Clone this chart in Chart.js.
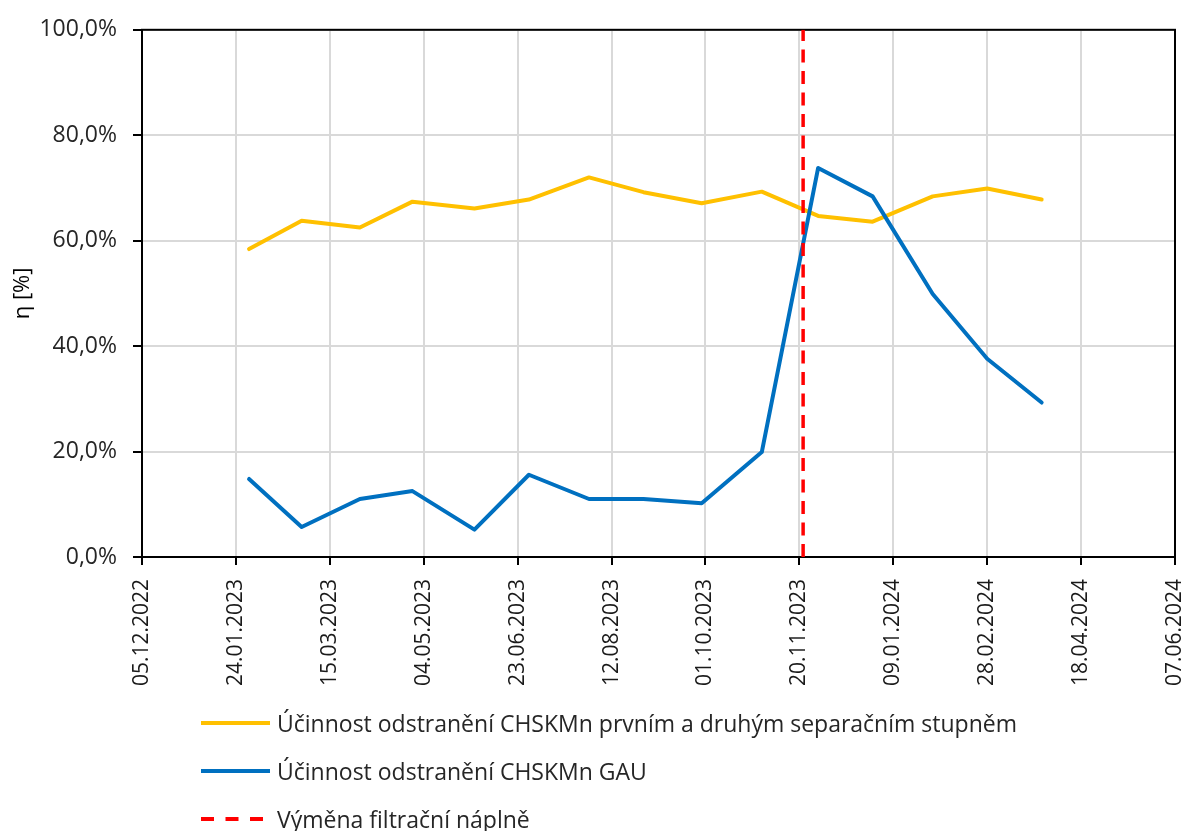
<!DOCTYPE html>
<html><head><meta charset="utf-8">
<script src="https://cdn.jsdelivr.net/npm/chart.js@4.4.0/dist/chart.umd.min.js"></script>
<style>
html,body{margin:0;padding:0;background:#fff;}
#wrap{position:relative;width:1188px;height:831px;}
#legend{position:absolute;left:201px;top:699px;font-family:"Open Sans";font-size:23px;color:#262626;}
.row{display:flex;align-items:center;height:48px;white-space:nowrap;}
.row svg{margin-right:7px;flex:none;}
</style></head><body>
<div id="wrap"><canvas id="c" width="1188" height="831"></canvas><div id="legend"></div></div>
<script>
const sampleDates = ["2023-01-31","2023-02-28","2023-03-31","2023-04-28","2023-05-31","2023-06-29","2023-07-31","2023-08-29","2023-09-29","2023-10-31","2023-11-30","2023-12-29","2024-01-30","2024-02-28","2024-03-28"];
const efficiencyStages = [58.4,63.8,62.5,67.4,66.1,67.8,72.0,69.2,67.1,69.3,64.7,63.6,68.4,69.9,67.8];
const efficiencyGAU = [14.8,5.7,11.0,12.5,5.2,15.6,11.0,11.0,10.2,19.9,73.8,68.4,49.9,37.6,29.3];
const filterChangeDate = "2023-11-22";
const filterChangeRange = [0, 100];
const axisStartDate = "2022-12-05";
const axisEndDate = "2024-06-07";
const xTickStepDays = 50;
const yTickStep = 20;
const seriesLabels = ["Účinnost odstranění CHSKMn prvním a druhým separačním stupněm","Účinnost odstranění CHSKMn GAU","Výměna filtrační náplně"];
const yAxisTitle = "η [%]";

function dayOf(s){const p=s.split('-').map(Number);return Date.UTC(p[0],p[1]-1,p[2])/86400000;}
const d0 = dayOf(axisStartDate);
const toX = s => dayOf(s) - d0;
function fmtDate(v){const d=new Date((d0+v)*86400000);const dd=String(d.getUTCDate()).padStart(2,'0');const mm=String(d.getUTCMonth()+1).padStart(2,'0');return dd+'.'+mm+'.'+d.getUTCFullYear();}

const frame = {id:'frame',beforeDatasetsDraw(chart){const a=chart.chartArea,ctx=chart.ctx;ctx.save();ctx.strokeStyle='#000';ctx.lineWidth=2;ctx.strokeRect(a.left,a.top,a.right-a.left,a.bottom-a.top);ctx.restore();}};

const datasets = [
 {label:seriesLabels[2],data:filterChangeRange.map(y=>({x:toX(filterChangeDate),y})),borderColor:'#FF0000',borderWidth:3.5,borderDash:[13,8.5],pointRadius:0,order:0},
 {label:seriesLabels[1],data:sampleDates.map((s,i)=>({x:toX(s),y:efficiencyGAU[i]})),borderColor:'#0070C0',borderWidth:4,pointRadius:0,order:1,borderJoinStyle:'round',borderCapStyle:'round'},
 {label:seriesLabels[0],data:sampleDates.map((s,i)=>({x:toX(s),y:efficiencyStages[i]})),borderColor:'#FFC000',borderWidth:4,pointRadius:0,order:2,borderJoinStyle:'round',borderCapStyle:'round'}
];

const chart = new Chart(document.getElementById('c'),{
 type:'line',
 data:{datasets},
 options:{
  responsive:false,animation:false,
  layout:{padding:{top:29,right:13,bottom:134,left:0}},
  plugins:{legend:{display:false},tooltip:{enabled:false}},
  scales:{
   x:{type:'linear',min:0,max:toX(axisEndDate),
      afterFit(s){s.height=140;s.paddingLeft=0;s.paddingRight=0;},
      ticks:{stepSize:xTickStepDays,autoSkip:false,minRotation:90,maxRotation:90,padding:14,color:'#1a1a1a',font:{family:'Open Sans',size:21},callback:v=>fmtDate(v)},
      grid:{color:'#d9d9d9',lineWidth:2,tickColor:'#000',tickLength:8,tickWidth:2},
      border:{color:'#000',width:2}},
   y:{min:0,max:100,
      afterFit(s){s.width=142;},
      ticks:{stepSize:yTickStep,padding:16,color:'#262626',font:{family:'Open Sans',size:23},callback:v=>v.toFixed(1).replace('.',',')+'%'},
      grid:{color:'#d9d9d9',lineWidth:2,tickColor:'#000',tickLength:9,tickWidth:2},
      border:{color:'#000',width:2},
      title:{display:true,text:yAxisTitle,color:'#000',font:{family:'Open Sans',size:22},padding:{top:10,bottom:0}}}
  }
 },
 plugins:[frame]
});

const legend=document.getElementById('legend');
[datasets[2],datasets[1],datasets[0]].forEach(ds=>{
 const row=document.createElement('div');row.className='row';
 const dash=ds.borderDash?`stroke-dasharray="13 11.5"`:'';
 row.innerHTML=`<svg width="69" height="8"><line x1="0" y1="4" x2="69" y2="4" stroke="${ds.borderColor}" stroke-width="4" ${dash}/></svg><span>${ds.label}</span>`;
 legend.appendChild(row);
});
</script>
</body></html>
